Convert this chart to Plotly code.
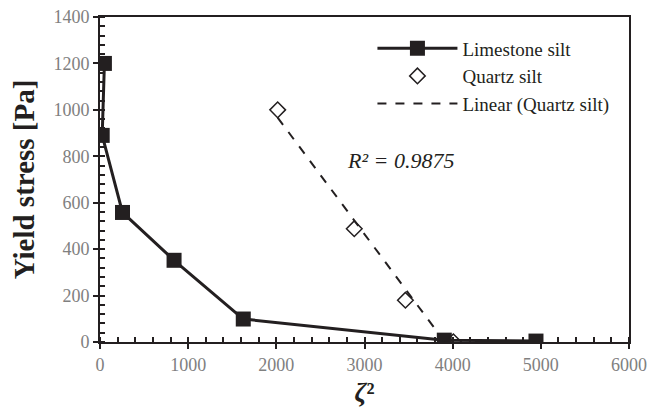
import numpy as np
import plotly.graph_objects as go

# Data
limestone_x = [50, 25, 255, 840, 1625, 3905, 4945]
limestone_y = [1200, 890, 558, 352, 99, 8, 4]

quartz_x = [2015, 2884, 3464, 4008]
quartz_y = [1000, 488, 180, 1]

r2_text = "R² = 0.9875"

# Linear trendline (least squares over the quartz data)
qx = np.array(quartz_x, dtype=float)
qy = np.array(quartz_y, dtype=float)
slope, intercept = np.polyfit(qx, qy, 1)
trend_x = [qx.min(), qx.max()]
trend_y = [slope * v + intercept for v in trend_x]

serif = "Liberation Serif"
dark = "#231f20"
gray = "#808080"

fig = go.Figure()
fig.add_trace(go.Scatter(
    x=limestone_x, y=limestone_y, mode="lines+markers", name="Limestone silt",
    line=dict(color=dark, width=3),
    marker=dict(symbol="square", size=15, color=dark),
))
fig.add_trace(go.Scatter(
    x=quartz_x, y=quartz_y, mode="markers", name="Quartz silt",
    marker=dict(symbol="diamond-open", size=12, color=dark, line=dict(width=1.5, color=dark)),
))
fig.add_trace(go.Scatter(
    x=trend_x, y=trend_y, mode="lines", name="Linear (Quartz silt)",
    line=dict(color=dark, width=2, dash="dash"),
))
# invisible trace to draw inward major ticks (crossing ticks)
fig.add_trace(go.Scatter(x=[0], y=[0], xaxis="x2", yaxis="y2", mode="markers",
                         marker=dict(opacity=0), showlegend=False, hoverinfo="skip"))

fig.add_annotation(x=3404, y=781, xref="x", yref="y", text="<i>" + r2_text + "</i>",
                   showarrow=False, font=dict(family=serif, size=22, color=dark))

fig.update_layout(
    width=640, height=399,
    margin=dict(l=92, r=19, t=9, b=65),
    paper_bgcolor="white", plot_bgcolor="white",
    showlegend=True,
    legend=dict(x=0.515, y=0.962, xanchor="left", yanchor="top",
                font=dict(family=serif, size=19, color=dark),
                bgcolor="rgba(0,0,0,0)", itemwidth=80, tracegroupgap=0),
    xaxis=dict(
        range=[0, 6000], dtick=1000, showgrid=False, zeroline=False, automargin=False,
        showline=True, linecolor=dark, linewidth=2, mirror=True, ticklabeloverflow="allow",
        ticks="outside", ticklen=5, tickwidth=2, tickcolor=dark,
        tickfont=dict(family=serif, size=18, color=gray),
        minor=dict(dtick=200, ticks="inside", ticklen=5, tickwidth=1.5, tickcolor=dark),
        title=dict(text="<b><i>ζ</i>²</b>", font=dict(family=serif, size=27, color=dark), standoff=14),
    ),
    yaxis=dict(
        range=[0, 1400], dtick=200, showgrid=False, zeroline=False, automargin=False,
        showline=True, linecolor=dark, linewidth=2, mirror=True, ticklabeloverflow="allow",
        ticks="outside", ticklen=5, tickwidth=2, tickcolor=dark,
        tickfont=dict(family=serif, size=18, color=gray),
        minor=dict(dtick=40, ticks="inside", ticklen=5, tickwidth=1.5, tickcolor=dark),
        title=dict(text="<b>Yield stress [Pa]</b>", font=dict(family=serif, size=29, color=dark), standoff=12),
    ),
    xaxis2=dict(overlaying="x", matches="x", range=[0, 6000], dtick=1000, showgrid=False,
                zeroline=False, showticklabels=False, ticks="inside", ticklen=5, tickwidth=2,
                tickcolor=dark, side="bottom", automargin=False),
    yaxis2=dict(overlaying="y", matches="y", range=[0, 1400], dtick=200, showgrid=False,
                zeroline=False, showticklabels=False, ticks="inside", ticklen=5, tickwidth=2,
                tickcolor=dark, side="left", automargin=False),
)

fig.write_html("out.html")
